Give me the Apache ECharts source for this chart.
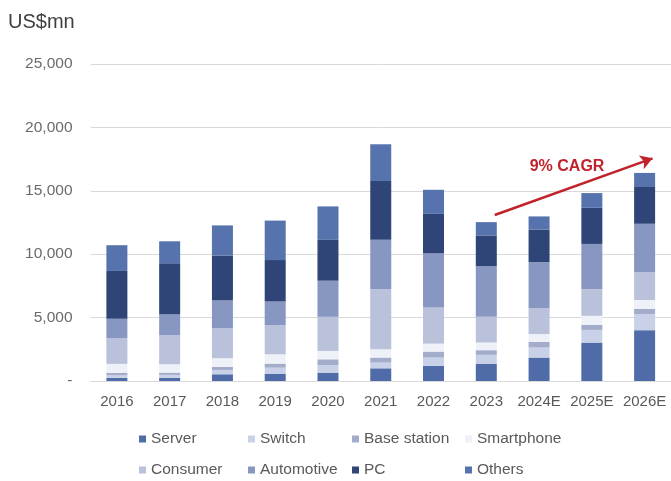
<!DOCTYPE html>
<html>
<head>
<meta charset="utf-8">
<script src="https://cdn.jsdelivr.net/npm/echarts@6/dist/echarts.min.js"></script>
<style>
  html, body { margin: 0; padding: 0; background: #ffffff; }
  #chart { width: 671px; height: 481px; }
</style>
</head>
<body>
<div id="chart"></div>
<script>
// Market size by end application, US$mn (stacked, bottom to top)
const years = ['2016', '2017', '2018', '2019', '2020', '2021', '2022', '2023', '2024E', '2025E', '2026E'];
const server      = [250, 240, 530, 580, 660, 1000, 1190, 1370, 1850, 3030, 4010];
const switchVals  = [200, 240, 340, 470, 580, 450, 660, 690, 790, 1000, 1270];
const baseStation = [200, 180, 240, 320, 470, 400, 470, 370, 450, 400, 400];
const smartphone  = [700, 660, 690, 740, 660, 660, 630, 610, 610, 710, 710];
const consumer    = [2030, 2290, 2350, 2290, 2690, 4720, 2850, 2030, 2060, 2110, 2190];
const automotive  = [1530, 1660, 2190, 1870, 2850, 3900, 4270, 3980, 3610, 3560, 3820];
const pc          = [3770, 4010, 3560, 3270, 3220, 4640, 3110, 2430, 2560, 2850, 2900];
const others      = [2030, 1740, 2370, 3110, 2640, 2900, 1900, 1050, 1050, 1160, 1110];

const yTicks = [0, 5000, 10000, 15000, 20000, 25000];

// Growth annotation: arrow from the 2023 bar to the 2026E bar (category index, value)
const cagrStart = [7.16, 13090];
const cagrEnd = [10.15, 17560];
const cagrLabelAt = [8.53, 16880];
const cagrText = '9% CAGR';

const seriesDefs = [
  { name: 'Server',       data: server,      color: '#4f6ca8' },
  { name: 'Switch',       data: switchVals,  color: '#c9d1e8' },
  { name: 'Base station', data: baseStation, color: '#a3adcb' },
  { name: 'Smartphone',   data: smartphone,  color: '#eff1f8' },
  { name: 'Consumer',     data: consumer,    color: '#b9c1db' },
  { name: 'Automotive',   data: automotive,  color: '#8797c2' },
  { name: 'PC',           data: pc,          color: '#2f4477' },
  { name: 'Others',       data: others,      color: '#5673ad' }
];

const font = 'Liberation Sans, Arial, sans-serif';

// Each legend column holds two entries, one per row
function legendColumn(left, names) {
  return {
    orient: 'vertical',
    left: left,
    top: 431,
    padding: 0,
    data: names,
    icon: 'rect',
    itemWidth: 7,
    itemHeight: 7,
    itemGap: 15,
    selectedMode: false,
    textStyle: { color: '#595959', fontSize: 15.5, fontFamily: font, lineHeight: 16 }
  };
}

const chart = echarts.init(document.getElementById('chart'), null, { renderer: 'canvas' });

chart.setOption({
  animation: false,
  backgroundColor: '#ffffff',
  title: {
    text: 'US$mn',
    left: 3,
    top: 7,
    textStyle: { color: '#404040', fontSize: 20, fontWeight: 'normal', fontFamily: font }
  },
  legend: [
    legendColumn(139, ['Server', 'Consumer']),
    legendColumn(248, ['Switch', 'Automotive']),
    legendColumn(352, ['Base station', 'PC']),
    legendColumn(465, ['Smartphone', 'Others'])
  ],
  grid: { left: 90.5, right: -2.5, top: 64, bottom: 100, containLabel: false },
  xAxis: [
    {
      type: 'category',
      data: years,
      axisLine: { show: true, lineStyle: { color: '#d9d9d9', width: 1 } },
      axisTick: { show: false },
      axisLabel: { color: '#595959', fontSize: 15, fontFamily: font, margin: 13, interval: 0 }
    },
    {
      type: 'value',
      min: -0.5,
      max: 10.5,
      show: false
    }
  ],
  yAxis: {
    type: 'value',
    min: yTicks[0],
    max: yTicks[yTicks.length - 1],
    interval: yTicks[1] - yTicks[0],
    axisLine: { show: false },
    axisTick: { show: false },
    splitLine: { lineStyle: { color: '#d9d9d9', width: 1 } },
    axisLabel: {
      color: '#6a6a6a',
      fontSize: 15.5,
      fontFamily: font,
      margin: 18,
      formatter: function (v) { return v === 0 ? '-' : v.toLocaleString('en-US'); }
    }
  },
  series: seriesDefs.map(function (s) {
    return {
      name: s.name,
      type: 'bar',
      stack: 'total',
      barWidth: 21,
      data: s.data,
      itemStyle: { color: s.color },
      emphasis: { disabled: true }
    };
  }).concat([{
    name: 'cagr',
    type: 'line',
    xAxisIndex: 1,
    data: [],
    silent: true,
    markLine: {
      silent: true,
      symbol: ['none', 'arrow'],
      symbolSize: [11, 12],
      lineStyle: { color: '#c0232b', width: 2.5, type: 'solid' },
      label: { show: false },
      data: [[{ coord: cagrStart }, { coord: cagrEnd }]]
    },
    markPoint: {
      silent: true,
      symbol: 'rect',
      symbolSize: 0,
      label: {
        show: true,
        position: 'inside',
        formatter: cagrText,
        color: '#c0232b',
        fontSize: 16,
        fontWeight: 'bold',
        fontFamily: font
      },
      data: [{ coord: cagrLabelAt }]
    }
  }])
});
</script>
</body>
</html>
